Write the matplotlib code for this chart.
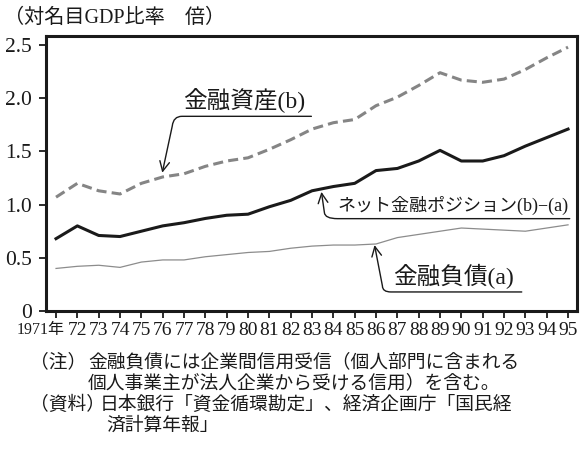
import matplotlib
matplotlib.use('Agg')
import matplotlib.pyplot as plt
from matplotlib.path import Path
from matplotlib.patches import FancyArrowPatch
import matplotlib.transforms as mtransforms

# data (ratio to nominal GDP)
years = list(range(1971, 1996))
year_labels = ['1971年'] + [str(y)[2:] for y in years[1:]]
assets = [1.07, 1.20, 1.13, 1.10, 1.20, 1.26, 1.29, 1.36, 1.41, 1.44,
          1.52, 1.61, 1.71, 1.77, 1.80, 1.93, 2.01, 2.12, 2.24, 2.17,
          2.15, 2.18, 2.27, 2.38, 2.48]
net = [0.68, 0.80, 0.71, 0.70, 0.75, 0.80, 0.83, 0.87, 0.90, 0.91,
       0.98, 1.04, 1.13, 1.17, 1.20, 1.32, 1.34, 1.41, 1.51, 1.41,
       1.41, 1.46, 1.55, 1.63, 1.71]
liab = [0.40, 0.42, 0.43, 0.41, 0.46, 0.48, 0.48, 0.51, 0.53, 0.55,
        0.56, 0.59, 0.61, 0.62, 0.62, 0.63, 0.69, 0.72, 0.75, 0.78,
        0.77, 0.76, 0.75, 0.78, 0.81]
y_ticks = [0, 0.5, 1.0, 1.5, 2.0, 2.5]
y_labels = ['0', '0.5', '1.0', '1.5', '2.0', '2.5']

serif = ['Liberation Serif', 'Noto Sans CJK JP']
jp = ['Noto Sans CJK JP', 'DejaVu Sans']
ink = '#1a1a1a'

fig = plt.figure(figsize=(5.8, 4.57), dpi=100)
ax = fig.add_axes([46/580, 1 - 311/457, 531/580, 275/457])

ax.plot(years, liab, color='#8c8c8c', lw=0.9)
ax.plot(years, net, color=ink, lw=2.2)
ax.plot(years, assets, color='#858585', lw=2.2, dashes=(3.3, 1.7))

ax.set_xlim(1970.53, 1995.42)
ax.set_ylim(0, 2.585)
ax.set_xticks(years)
ax.set_xticklabels(year_labels, family=serif, fontsize=14, color=ink)
ax.set_yticks(y_ticks)
ax.set_yticklabels(y_labels, family=serif, fontsize=15.5, color=ink)
ax.tick_params(direction='out', length=5, width=1.3, color=ink)
ax.tick_params(axis='y', pad=5)
ax.tick_params(axis='x', pad=3)
for s in ax.spines.values():
    s.set_linewidth(2.2)
    s.set_color(ink)

# first label is squeezed, like the original
lab0 = ax.get_xticklabels()[0]
lab0.set_fontsize(11.5)
lab0.set_horizontalalignment('right')
lab0.set_transform(lab0.get_transform() + mtransforms.ScaledTranslation(9/100, 0, fig.dpi_scale_trans))

# callouts
def callout(verts, codes):
    p = FancyArrowPatch(path=Path(verts, codes), arrowstyle='->,head_length=0.5,head_width=0.25',
                        mutation_scale=14, lw=1.0, color=ink, transform=ax.transData)
    ax.add_patch(p)

codes = [Path.MOVETO, Path.LINETO, Path.CURVE3, Path.CURVE3, Path.LINETO]
callout([(1982.97, 1.83), (1976.9, 1.83), (1976.5, 1.83), (1976.45, 1.74), (1975.98, 1.30)], codes)
callout([(1995.08, 0.868), (1984.2, 0.868), (1983.6, 0.868), (1983.58, 0.925), (1983.44, 1.12)], codes)
callout([(1992.83, 0.179), (1986.7, 0.179), (1986.3, 0.179), (1986.3, 0.235), (1985.93, 0.62)], codes)

ax.text(1976.95, 1.87, '金融資産(b)', family=serif, fontsize=17, color=ink, va='bottom')
ax.text(1984.2, 0.90, 'ネット金融ポジション(b)−(a)', family=serif, fontsize=13, color=ink, va='bottom')
ax.text(1986.8, 0.21, '金融負債(a)', family=serif, fontsize=17, color=ink, va='bottom')

# header and notes
fig.text(4/580, 1 - 18/457, '（対名目GDP比率　倍）', family=serif, fontsize=14.5, color=ink, va='center')
fig.text(30/580, 1 - 362/457, '（注）', family=jp, fontsize=13.5, color=ink, va='center')
fig.text(88/580, 1 - 362/457, '金融負債には企業間信用受信（個人部門に含まれる', family=jp, fontsize=13.5, color=ink, va='center')
fig.text(88/580, 1 - 383/457, '個人事業主が法人企業から受ける信用）を含む。', family=jp, fontsize=13.5, color=ink, va='center')
fig.text(30/580, 1 - 404/457, '（資料）', family=jp, fontsize=13.5, color=ink, va='center')
fig.text(100/580, 1 - 404/457, '日本銀行「資金循環勘定」、経済企画庁「国民経', family=jp, fontsize=13.5, color=ink, va='center')
fig.text(106/580, 1 - 425/457, '済計算年報」', family=jp, fontsize=13.5, color=ink, va='center')

fig.savefig('out.png', dpi=100)
